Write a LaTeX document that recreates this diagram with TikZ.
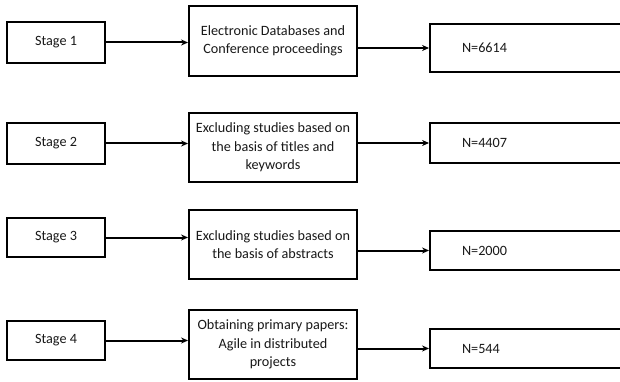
\documentclass[tikz,border=0pt]{standalone}
\usepackage{fontspec}
\setmainfont{Carlito}
\usetikzlibrary{arrows.meta}
\begin{document}
\begin{tikzpicture}[x=1pt,y=-1pt,
  box/.style={draw=black,line width=1.9pt,inner sep=0pt,align=center,font=\fontsize{14.2}{18.5}\selectfont,text=black!90},
  stagebox/.style={box,minimum width=98pt},
  midbox/.style={box,minimum width=168pt,minimum height=69pt},
  numbox/.style={box,minimum width=192pt,text width=128pt,inner xsep=32pt,align=left},
  arr/.style={line width=2pt,-{Stealth[length=7pt,width=6pt]}}]
\useasboundingbox (0,0) rectangle (620,382);
\clip (0,0) rectangle (620,382);
\fill[white] (0,0) rectangle (620,382);
% row 1
\node[stagebox,minimum height=41pt] (s1) at (56,42.5) {Stage 1};
\node[midbox,minimum height=70pt] (m1) at (273,41) {Electronic Databases and\\Conference proceedings};
\node[numbox,minimum height=48pt] (r1) at (526,48) {N=6614};
% row 2
\node[stagebox,minimum height=41pt] (s2) at (56,143.5) {Stage 2};
\node[midbox] (m2) at (273,147.5) {Excluding studies based on\\the basis of titles and\\keywords};
\node[numbox,minimum height=40pt] (r2) at (526,143) {N=4407};
% row 3
\node[stagebox,minimum height=39pt] (s3) at (56,237.5) {Stage 3};
\node[midbox] (m3) at (273,244.5) {Excluding studies based on\\the basis of abstracts};
\node[numbox,minimum height=39pt] (r3) at (526,250.5) {N=2000};
% row 4
\node[stagebox,minimum height=39pt] (s4) at (56,340.5) {Stage 4};
\node[midbox] (m4) at (273,344.5) {Obtaining primary papers:\\Agile in distributed\\projects};
\node[numbox,minimum height=39pt] (r4) at (526,348.5) {N=544};
% arrows
\foreach \i in {1,2,3,4}{
  \draw[arr] (s\i.east) -- (s\i.east -| m\i.west);
  \draw[arr] (m\i.east |- r\i.west) -- (r\i.west);
}
\end{tikzpicture}
\end{document}
